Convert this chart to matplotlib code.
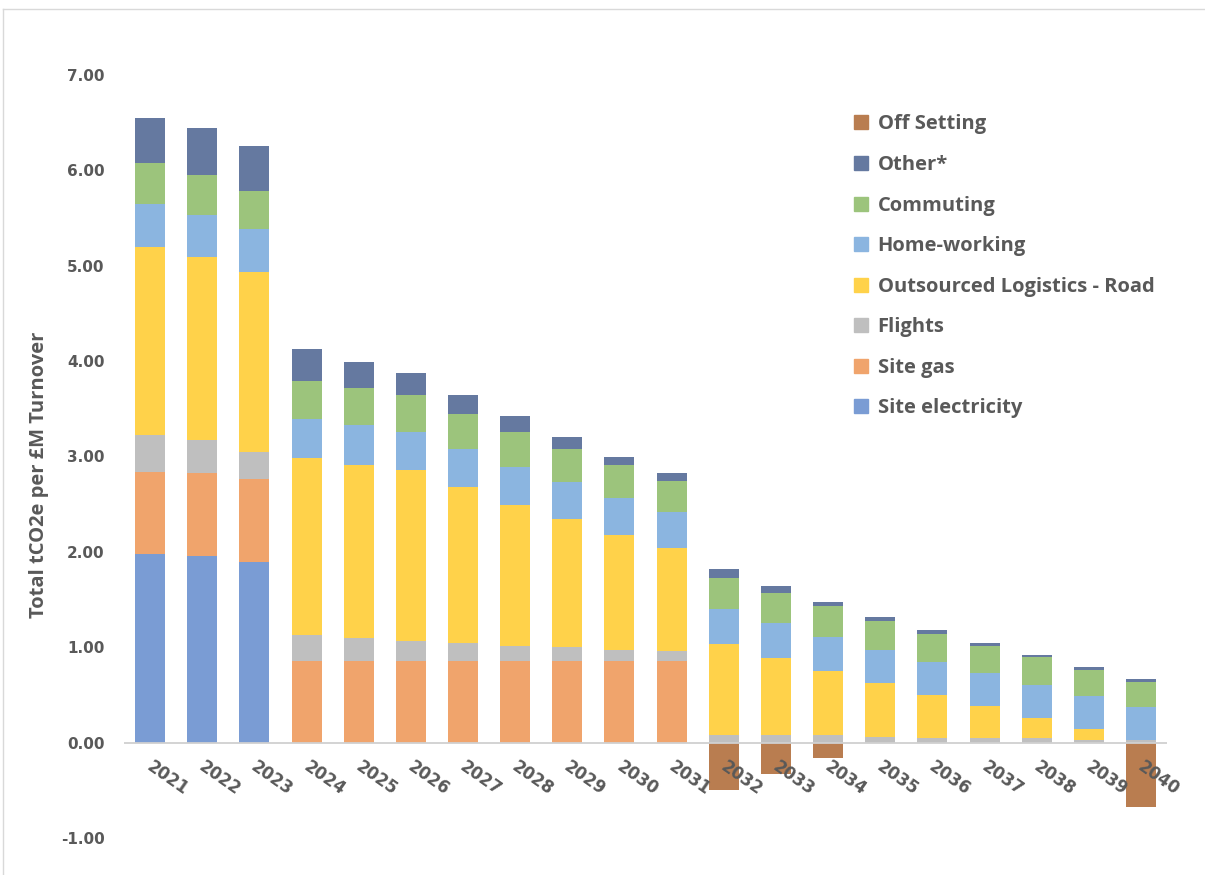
import numpy as np
import matplotlib.pyplot as plt
from matplotlib.lines import Line2D

years = [str(y) for y in range(2021, 2041)]

site_electricity = [1.98, 1.96, 1.89, 0, 0, 0, 0, 0, 0, 0, 0, 0, 0, 0, 0, 0, 0, 0, 0, 0]
site_gas = [0.86, 0.87, 0.87, 0.86, 0.86, 0.86, 0.86, 0.86, 0.86, 0.86, 0.86, 0, 0, 0, 0, 0, 0, 0, 0, 0]
flights = [0.39, 0.34, 0.29, 0.265, 0.237, 0.21, 0.18, 0.155, 0.14, 0.11, 0.10,
           0.085, 0.075, 0.075, 0.055, 0.045, 0.045, 0.045, 0.03, 0.03]
road = [1.97, 1.92, 1.885, 1.855, 1.813, 1.79, 1.635, 1.48, 1.34, 1.21, 1.08,
        0.945, 0.815, 0.68, 0.57, 0.455, 0.335, 0.21, 0.11, 0.0]
home_working = [0.45, 0.44, 0.445, 0.415, 0.415, 0.40, 0.40, 0.40, 0.39, 0.385, 0.375,
                0.375, 0.36, 0.355, 0.35, 0.35, 0.345, 0.35, 0.345, 0.345]
commuting = [0.43, 0.42, 0.40, 0.40, 0.39, 0.385, 0.375, 0.365, 0.35, 0.345, 0.33,
             0.32, 0.32, 0.32, 0.30, 0.29, 0.29, 0.29, 0.28, 0.265]
other = [0.47, 0.49, 0.48, 0.335, 0.275, 0.235, 0.195, 0.165, 0.12, 0.08, 0.085,
         0.10, 0.07, 0.04, 0.04, 0.04, 0.03, 0.025, 0.025, 0.03]
off_setting = [0, 0, 0, 0, 0, 0, 0, 0, 0, 0, 0, -0.50, -0.33, -0.16, 0, 0, 0, 0, 0, -0.67]

series = [
    ("Site electricity", site_electricity, "#7A9CD4"),
    ("Site gas", site_gas, "#F0A46C"),
    ("Flights", flights, "#BFBFBF"),
    ("Outsourced Logistics - Road", road, "#FFD24A"),
    ("Home-working", home_working, "#8BB5E0"),
    ("Commuting", commuting, "#9CC47C"),
    ("Other*", other, "#6579A0"),
]
offset_color = "#B97D50"
txt = "#595959"

fig = plt.figure(figsize=(12.05, 8.75), dpi=100)
ax = fig.add_axes([0.1029, 0.0423, 0.8656, 0.872])

x = np.arange(len(years))
w = 0.575
bottom = np.zeros(len(years))
for name, vals, col in series:
    ax.bar(x, vals, w, bottom=bottom, color=col, zorder=2)
    bottom += np.array(vals)
ax.bar(x, off_setting, w, color=offset_color, zorder=2)

ax.axhline(0, color="#d0d0d0", lw=1.3, zorder=3)
ax.set_xlim(-0.5, 19.5)
ax.set_ylim(-1, 7)
ax.set_yticks(np.arange(-1, 8, 1))
ax.set_yticklabels([f"{v:.2f}" for v in np.arange(-1, 8, 1)],
                   fontsize=11, fontweight="bold", color=txt)
ax.tick_params(axis="y", length=0, pad=14)
ax.set_xticks([])
for s in ax.spines.values():
    s.set_visible(False)

for i, y in enumerate(years):
    ax.annotate(y, xy=(i, 0), xytext=(-1, -16), textcoords="offset points",
                rotation=-35, rotation_mode="anchor", ha="left", va="center",
                fontsize=12, fontweight="bold", color=txt, zorder=5)

ax.set_ylabel("Total tCO2e per £M Turnover", fontsize=14.5, fontweight="bold",
              color=txt, family="Open Sans")
ax.yaxis.set_label_coords(-0.072, 0.476)

handles = [Line2D([], [], marker="s", ls="none", markersize=10, color=offset_color)]
labels = ["Off Setting"]
for name, vals, col in reversed(series):
    handles.append(Line2D([], [], marker="s", ls="none", markersize=10, color=col))
    labels.append(name)
leg = ax.legend(handles, labels, loc="upper left", bbox_to_anchor=(0.68, 0.972),
                frameon=False, prop={"family": "Open Sans", "weight": "bold", "size": 14.5},
                labelspacing=1.02, handletextpad=0.3, handlelength=1.0)
for t in leg.get_texts():
    t.set_color(txt)

fig.add_artist(Line2D([0.0025, 0.0025], [0, 0.99], transform=fig.transFigure,
                      color="#d9d9d9", lw=1))
fig.add_artist(Line2D([0.0025, 1], [0.99, 0.99], transform=fig.transFigure,
                      color="#d9d9d9", lw=1))

fig.savefig("out.png", dpi=100)
